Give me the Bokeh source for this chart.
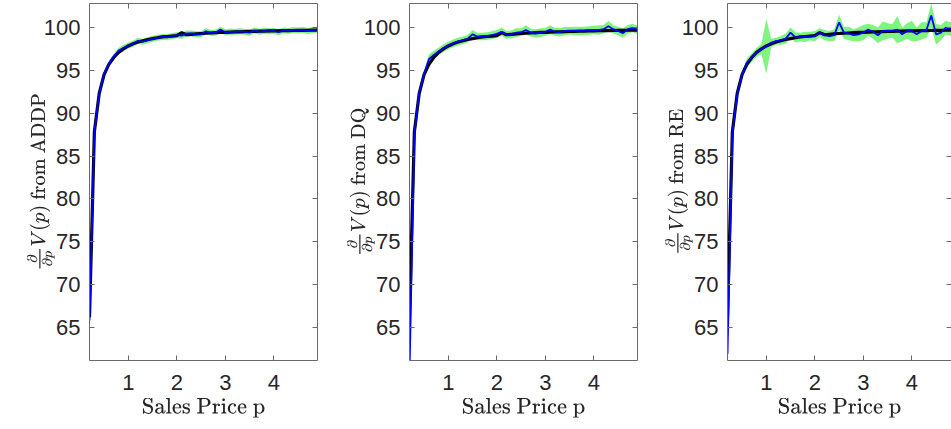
from bokeh.plotting import figure
from bokeh.layouts import row
from bokeh.models import LinearAxis, FixedTicker, Range1d, CustomJSTickFormatter
from bokeh.embed import file_html
from bokeh.resources import INLINE

# ---------------- data ----------------
price = [0.2, 0.3, 0.4, 0.5, 0.6, 0.7, 0.8, 0.9, 1.0, 1.1, 1.2, 1.3, 1.4, 1.5, 1.6, 1.7,
         1.8, 1.9, 2.0, 2.1, 2.2, 2.3, 2.4, 2.5, 2.6, 2.7, 2.8, 2.9, 3.0, 3.1, 3.2, 3.3,
         3.4, 3.5, 3.6, 3.7, 3.8, 3.9, 4.0, 4.1, 4.2, 4.3, 4.4, 4.5, 4.6, 4.7, 4.8, 4.9]

true_deriv = [66.2, 87.8, 92.3, 94.5, 95.7, 96.5, 97.1, 97.5, 97.85, 98.1, 98.3, 98.45,
              98.6, 98.7, 98.8, 98.9, 98.95, 99.0, 99.05, 99.4, 99.15, 99.2, 99.25, 99.3,
              99.33, 99.36, 99.39, 99.42, 99.44, 99.46, 99.48, 99.5, 99.52, 99.54, 99.55,
              99.57, 99.58, 99.6, 99.61, 99.62, 99.63, 99.64, 99.65, 99.66, 99.67, 99.68,
              99.69, 99.7]

addp_est = [65.8, 87.8, 92.3, 94.6, 95.8, 96.6, 97.3, 97.6, 97.9, 98.1, 98.45, 98.35,
            98.5, 98.7, 98.8, 98.9, 98.85, 99.0, 99.1, 99.05, 99.3, 99.3, 99.2, 99.2,
            99.55, 99.4, 99.4, 99.75, 99.45, 99.5, 99.5, 99.55, 99.5, 99.4, 99.65, 99.5,
            99.6, 99.55, 99.6, 99.45, 99.65, 99.6, 99.7, 99.65, 99.7, 99.6, 99.7, 99.75]
addp_hw = [0.1, 0.2, 0.25, 0.3, 0.3, 0.35, 0.35, 0.35, 0.35, 0.35, 0.35, 0.35,
           0.35, 0.35, 0.35, 0.35, 0.35, 0.35, 0.35, 0.35, 0.35, 0.35, 0.35, 0.35,
           0.35, 0.35, 0.35, 0.35, 0.35, 0.35, 0.35, 0.35, 0.35, 0.35, 0.35, 0.35,
           0.35, 0.35, 0.35, 0.35, 0.35, 0.35, 0.35, 0.35, 0.35, 0.35, 0.35, 0.35]

dq_est = [59.5, 87.5, 92.4, 94.6, 96.3, 96.8, 97.2, 97.6, 97.9, 98.15, 98.35, 98.5,
          98.7, 99.2, 98.95, 98.95, 99.0, 99.1, 99.25, 99.5, 99.15, 99.2, 99.4, 99.45,
          99.7, 99.4, 99.3, 99.4, 99.5, 99.75, 99.5, 99.45, 99.6, 99.6, 99.6, 99.6,
          99.6, 99.65, 99.7, 99.7, 99.8, 100.15, 99.8, 99.6, 99.35, 99.8, 99.95, 99.7]
dq_hw = [0.1, 0.2, 0.3, 0.35, 0.55, 0.5, 0.45, 0.45, 0.45, 0.45, 0.45, 0.45,
         0.45, 0.5, 0.45, 0.45, 0.45, 0.45, 0.45, 0.5, 0.45, 0.45, 0.5, 0.45,
         0.55, 0.45, 0.5, 0.5, 0.45, 0.5, 0.45, 0.5, 0.5, 0.45, 0.5, 0.5,
         0.5, 0.5, 0.5, 0.55, 0.5, 0.6, 0.5, 0.5, 0.55, 0.5, 0.5, 0.5]

re_est = [61.9, 87.6, 92.2, 94.5, 95.9, 96.5, 97.1, 97.5, 97.8, 98.2, 98.4, 98.5,
          98.7, 99.4, 98.85, 98.9, 98.9, 99.0, 99.0, 99.4, 99.1, 99.0, 99.1, 100.6,
          99.4, 99.3, 99.1, 99.2, 99.4, 99.75, 99.5, 99.1, 99.6, 99.6, 99.6, 99.75,
          99.2, 99.6, 99.6, 99.2, 99.6, 99.7, 101.4, 99.2, 99.4, 100.0, 99.8, 99.9]
re_hw = [0.2, 0.3, 0.3, 0.4, 0.5, 0.5, 0.5, 0.6, 3.2, 0.5, 0.4, 0.5,
         0.6, 0.6, 0.6, 0.5, 0.6, 0.5, 0.6, 0.5, 0.6, 0.6, 0.7, 0.9,
         0.7, 0.8, 0.7, 0.8, 0.9, 0.7, 0.8, 0.9, 1.1, 0.9, 0.8, 1.6,
         0.8, 0.9, 1.2, 0.8, 1.0, 0.9, 1.4, 1.2, 0.9, 0.8, 0.8, 0.8]

methods = ["ADDP", "DQ", "RE"]
x_ticks = [1, 2, 3, 4]
y_ticks = [65, 70, 75, 80, 85, 90, 95, 100]

# ---------------- style ----------------
AXIS_COLOR = "#6a6a6a"
TEXT_COLOR = "#262626"
BAND_COLOR = "#7ef57e"
Y_LO, Y_HI = 61.14, 102.8
X_LO, X_HI = 0.2, 4.9
PX_PER_UNIT = 228 / (X_HI - X_LO)


def style_axis(ax, ticks, show_labels):
    ax.ticker = FixedTicker(ticks=ticks)
    ax.axis_line_color = AXIS_COLOR
    ax.axis_line_width = 1
    ax.major_tick_line_color = AXIS_COLOR
    ax.major_tick_in = 5
    ax.major_tick_out = 0
    ax.minor_tick_line_color = None
    if show_labels:
        ax.major_label_text_font = "Liberation Sans"
        ax.major_label_text_font_size = "22px"
        ax.major_label_text_color = TEXT_COLOR
    else:
        ax.formatter = CustomJSTickFormatter(code="return ''")
        ax.major_label_text_font_size = "0px"
        ax.major_label_standoff = 0


def make_panel(name, est, hw, left_border, frame_w, right_border):
    x_end = X_LO + frame_w / PX_PER_UNIT
    lo = [e - h for e, h in zip(est, hw)]
    hi = [e + h for e, h in zip(est, hw)]
    p = figure(width=left_border + frame_w + right_border, height=429,
               x_range=Range1d(X_LO, x_end), y_range=Range1d(Y_LO, Y_HI),
               output_backend="svg", toolbar_location=None,
               min_border_left=left_border, min_border_right=right_border,
               min_border_top=3, min_border_bottom=69)
    p.grid.visible = False
    p.outline_line_color = None
    p.background_fill_color = "white"
    p.border_fill_color = "white"

    p.varea(x=price, y1=lo, y2=hi, fill_color=BAND_COLOR, fill_alpha=1.0)
    p.line(price, true_deriv, line_color="black", line_width=3.2)
    p.line(price, est, line_color="#0000ff", line_width=1.8)

    style_axis(p.xaxis[0], x_ticks, True)
    style_axis(p.yaxis[0], y_ticks, True)
    p.xaxis[0].major_label_standoff = 14
    p.yaxis[0].major_label_standoff = 9

    p.yaxis[0].axis_label = r"$$\tfrac{\partial}{\partial p}V(p) \text{ from " + name + "}$$"
    p.yaxis[0].axis_label_text_font_size = "17px"
    p.yaxis[0].axis_label_text_color = TEXT_COLOR
    p.yaxis[0].axis_label_standoff = -14

    p.xaxis[0].axis_label = r"$$\text{Sales Price p}$$"
    p.xaxis[0].axis_label_text_font_size = "19px"
    p.xaxis[0].axis_label_text_color = TEXT_COLOR
    p.xaxis[0].axis_label_standoff = 5

    top = LinearAxis()
    style_axis(top, x_ticks, False)
    p.add_layout(top, "above")
    right = LinearAxis()
    style_axis(right, y_ticks, False)
    p.add_layout(right, "right")
    return p


p1 = make_panel(methods[0], addp_est, addp_hw, 89, 228, 3)
p2 = make_panel(methods[1], dq_est, dq_hw, 89, 228, 3)
p3 = make_panel(methods[2], re_est, re_hw, 87, 224, 0)

layout = row(p1, p2, p3)
open("out.html", "w").write(file_html(layout, INLINE))
